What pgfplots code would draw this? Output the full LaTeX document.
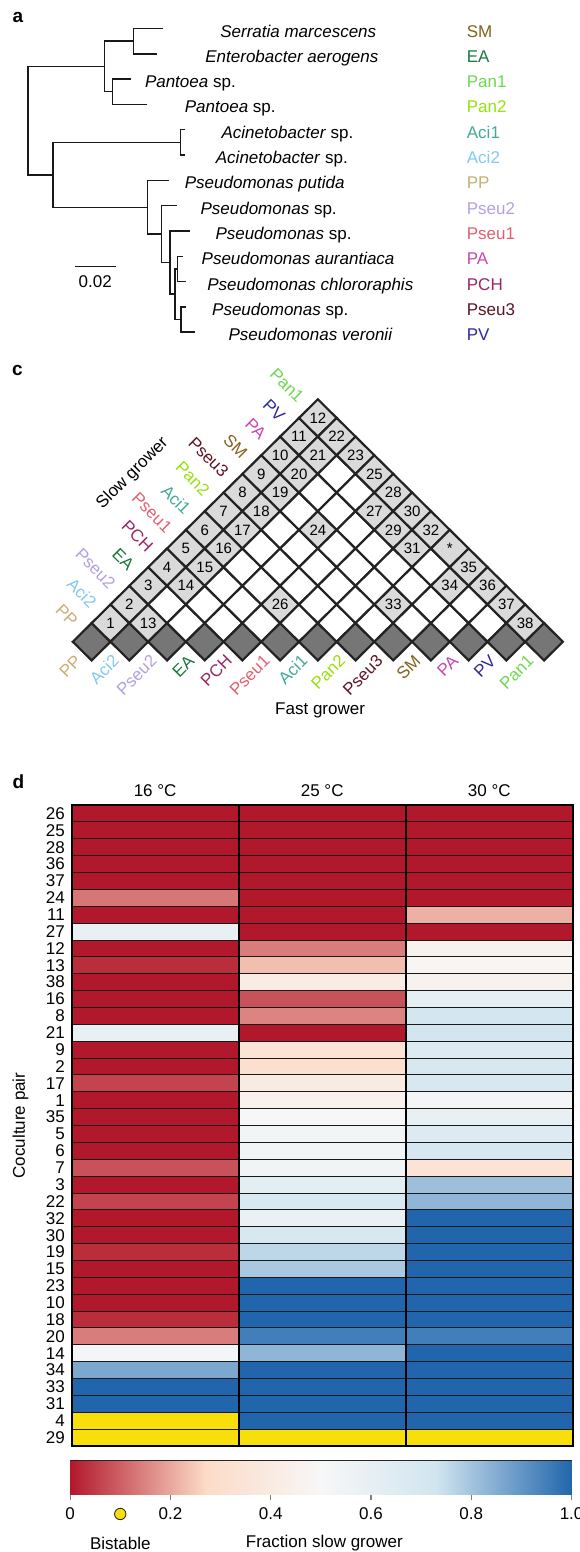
\documentclass[border=0pt]{standalone}
\usepackage{fontspec}
\setmainfont{Liberation Sans}
\usepackage{pgfplots}
\usepackage{pgfplotstable}
\pgfplotsset{compat=1.18}

% strain colours
\definecolor{cSM}{RGB}{128,100,30}
\definecolor{cEA}{RGB}{25,120,60}
\definecolor{cPanA}{RGB}{110,215,80}
\definecolor{cPanB}{RGB}{150,225,10}
\definecolor{cAciA}{RGB}{65,170,150}
\definecolor{cAciB}{RGB}{130,200,240}
\definecolor{cPP}{RGB}{200,175,115}
\definecolor{cPseuB}{RGB}{180,160,225}
\definecolor{cPseuA}{RGB}{225,95,115}
\definecolor{cPA}{RGB}{200,70,180}
\definecolor{cPCH}{RGB}{150,40,100}
\definecolor{cPseuC}{RGB}{95,20,35}
\definecolor{cPV}{RGB}{45,40,155}
\definecolor{cellgray}{RGB}{218,218,218}
\definecolor{basegray}{RGB}{118,118,118}
\definecolor{gridline}{RGB}{35,35,35}
\definecolor{bistable}{RGB}{248,223,11}

% one cell of the pairwise triangle (a square standing on its corner)
\pgfdeclareplotmark{paircell}{%
  \pgfpathmoveto{\pgfqpoint{-18.85pt}{0pt}}%
  \pgfpathlineto{\pgfqpoint{0pt}{18.65pt}}%
  \pgfpathlineto{\pgfqpoint{18.85pt}{0pt}}%
  \pgfpathlineto{\pgfqpoint{0pt}{-18.65pt}}%
  \pgfpathclose
  \pgfusepathqfillstroke}

\pgfplotsset{colormap={fraction}{rgb255(0cm)=(178,24,43) rgb255(27cm)=(253,219,199)
  rgb255(50cm)=(247,247,247) rgb255(73cm)=(209,229,240) rgb255(100cm)=(33,102,172)}}

\tikzset{
  branch/.style={draw=black!90, line width=1.4pt},
  leaf/.style={anchor=base west, inner sep=0pt},
  slowlab/.style={rotate=-45, anchor=east, inner sep=1pt},
  fastlab/.style={rotate=45, anchor=east, inner sep=1pt},
  panel/.style={anchor=base west, inner sep=0pt, font=\fontsize{19}{19}\selectfont\bfseries}
}

% cells of the triangle: i, j = strain indices, c = 0 not tested, 1 tested pair, 2 monoculture
\pgfplotstableread[row sep=\\]{
i j c\\
0 0 2\\ 0 1 1\\ 0 2 1\\ 0 3 1\\ 0 4 1\\ 0 5 1\\ 0 6 1\\ 0 7 1\\ 0 8 1\\ 0 9 1\\ 0 10 1\\ 0 11 1\\ 0 12 1\\
1 1 2\\ 1 2 1\\ 1 3 0\\ 1 4 1\\ 1 5 1\\ 1 6 1\\ 1 7 1\\ 1 8 1\\ 1 9 1\\ 1 10 1\\ 1 11 1\\ 1 12 1\\
2 2 2\\ 2 3 0\\ 2 4 0\\ 2 5 0\\ 2 6 0\\ 2 7 0\\ 2 8 0\\ 2 9 0\\ 2 10 0\\ 2 11 0\\ 2 12 1\\
3 3 2\\ 3 4 0\\ 3 5 0\\ 3 6 0\\ 3 7 0\\ 3 8 0\\ 3 9 1\\ 3 10 0\\ 3 11 0\\ 3 12 1\\
4 4 2\\ 4 5 0\\ 4 6 1\\ 4 7 0\\ 4 8 0\\ 4 9 0\\ 4 10 0\\ 4 11 1\\ 4 12 1\\
5 5 2\\ 5 6 0\\ 5 7 0\\ 5 8 0\\ 5 9 0\\ 5 10 0\\ 5 11 1\\ 5 12 1\\
6 6 2\\ 6 7 0\\ 6 8 0\\ 6 9 0\\ 6 10 0\\ 6 11 1\\ 6 12 1\\
7 7 2\\ 7 8 0\\ 7 9 1\\ 7 10 0\\ 7 11 0\\ 7 12 1\\
8 8 2\\ 8 9 0\\ 8 10 0\\ 8 11 1\\ 8 12 1\\
9 9 2\\ 9 10 0\\ 9 11 0\\ 9 12 1\\
10 10 2\\ 10 11 0\\ 10 12 1\\
11 11 2\\ 11 12 1\\
12 12 2\\
}\pairgrid

% numbering of the tested pairs
\pgfplotstableread[row sep=\\]{
i j lab\\
0 1 1\\ 0 2 2\\ 0 3 3\\ 0 4 4\\ 0 5 5\\ 0 6 6\\ 0 7 7\\ 0 8 8\\ 0 9 9\\ 0 10 10\\ 0 11 11\\ 0 12 12\\
1 2 13\\ 1 4 14\\ 1 5 15\\ 1 6 16\\ 1 7 17\\ 1 8 18\\ 1 9 19\\ 1 10 20\\ 1 11 21\\ 1 12 22\\
2 12 23\\ 3 9 24\\ 3 12 25\\ 4 6 26\\ 4 11 27\\ 4 12 28\\ 5 11 29\\ 5 12 30\\ 6 11 31\\ 6 12 32\\
7 9 33\\ 7 12 *\\ 8 11 34\\ 8 12 35\\ 9 12 36\\ 10 12 37\\ 11 12 38\\
}\pairnums

% fraction of slow grower: x = temperature (0: 16, 1: 25, 2: 30 C), y = row; -1 = bistable
\pgfplotstableread[row sep=\\]{
x y v\\
0 0 0\\ 1 0 0\\ 2 0 0\\
0 1 0\\ 1 1 0\\ 2 1 0\\
0 2 0\\ 1 2 0\\ 2 2 0\\
0 3 0\\ 1 3 0\\ 2 3 0\\
0 4 0\\ 1 4 0\\ 2 4 0\\
0 5 0.13\\ 1 5 0\\ 2 5 0\\
0 6 0\\ 1 6 0\\ 2 6 0.21\\
0 7 0.59\\ 1 7 0\\ 2 7 0\\
0 8 0\\ 1 8 0.14\\ 2 8 0.46\\
0 9 0.03\\ 1 9 0.23\\ 2 9 0.48\\
0 10 0\\ 1 10 0.41\\ 2 10 0.46\\
0 11 0\\ 1 11 0.08\\ 2 11 0.60\\
0 12 0\\ 1 12 0.15\\ 2 12 0.71\\
0 13 0.59\\ 1 13 0\\ 2 13 0.72\\
0 14 0\\ 1 14 0.34\\ 2 14 0.66\\
0 15 0\\ 1 15 0.31\\ 2 15 0.69\\
0 16 0.06\\ 1 16 0.40\\ 2 16 0.69\\
0 17 0\\ 1 17 0.45\\ 2 17 0.52\\
0 18 0\\ 1 18 0.50\\ 2 18 0.59\\
0 19 0\\ 1 19 0.53\\ 2 19 0.66\\
0 20 0\\ 1 20 0.53\\ 2 20 0.70\\
0 21 0.08\\ 1 21 0.54\\ 2 21 0.34\\
0 22 0\\ 1 22 0.62\\ 2 22 0.81\\
0 23 0.06\\ 1 23 0.68\\ 2 23 0.83\\
0 24 0\\ 1 24 0.58\\ 2 24 1\\
0 25 0\\ 1 25 0.69\\ 2 25 1\\
0 26 0.03\\ 1 26 0.76\\ 2 26 1\\
0 27 0\\ 1 27 0.79\\ 2 27 1\\
0 28 0\\ 1 28 1\\ 2 28 1\\
0 29 0\\ 1 29 1\\ 2 29 1\\
0 30 0.03\\ 1 30 1\\ 2 30 1\\
0 31 0.14\\ 1 31 0.95\\ 2 31 0.95\\
0 32 0.52\\ 1 32 0.83\\ 2 32 1\\
0 33 0.86\\ 1 33 1\\ 2 33 1\\
0 34 1\\ 1 34 1\\ 2 34 1\\
0 35 1\\ 1 35 1\\ 2 35 1\\
0 36 -1\\ 1 36 1\\ 2 36 1\\
0 37 -1\\ 1 37 -1\\ 2 37 -1\\
}\fraction

\begin{document}
\begin{tikzpicture}[font=\fontsize{17}{20}\selectfont]
\useasboundingbox (0pt,0pt) rectangle (579pt,-1552pt);

\node[panel] at (12.5pt,-22.5pt) {a};
\node[panel] at (12pt,-375.5pt) {c};
\node[panel] at (12.5pt,-788pt) {d};

% ---------------- a: phylogeny ----------------
\begin{axis}[at={(0pt,0pt)}, anchor=north west, scale only axis,
  width=579pt, height=350pt, xmin=0, xmax=579, ymin=0, ymax=350,
  y dir=reverse, hide axis, clip=false]
\addplot[branch] coordinates {(163.4,28.5) (133.6,28.5) (133.6,53.8) (156.7,53.8)};
\addplot[branch] coordinates {(130.6,79.1) (112.7,79.1) (112.7,104.4) (147.4,104.4)};
\addplot[branch] coordinates {(133.6,41.15) (104.5,41.15) (104.5,91.75) (112.7,91.75)};
\addplot[branch] coordinates {(185.4,129.7) (180.2,129.7) (180.2,155) (184.7,155)};
\addplot[branch] coordinates {(182.8,256.2) (177.3,256.2) (177.3,281.5) (185.8,281.5)};
\addplot[branch] coordinates {(185.8,306.8) (181,306.8) (181,332.1) (194.8,332.1)};
\addplot[branch] coordinates {(177.3,268.85) (175,268.85) (175,319.45) (181,319.45)};
\addplot[branch] coordinates {(189.6,230.9) (170,230.9) (170,294.15) (175,294.15)};
\addplot[branch] coordinates {(177,205.6) (161.7,205.6) (161.7,262.5) (170,262.5)};
\addplot[branch] coordinates {(169,180.3) (147.3,180.3) (147.3,234.05) (161.7,234.05)};
\addplot[branch] coordinates {(180.2,142.35) (53,142.35) (53,207.2) (147.3,207.2)};
\addplot[branch] coordinates {(104.5,66.45) (28,66.45) (28,174.8) (53,174.8)};
% scale bar
\addplot[branch] coordinates {(74.6,266.7) (115.7,266.7)};
\node[anchor=base] at (axis cs:95.2,287.8) {0.02};

\node[leaf] at (axis cs:220.1,37) {\textit{Serratia marcescens}};
\node[leaf] at (axis cs:205.2,62.3) {\textit{Enterobacter aerogens}};
\node[leaf] at (axis cs:144.8,87.6) {\textit{Pantoea} sp.};
\node[leaf] at (axis cs:184.7,112.9) {\textit{Pantoea} sp.};
\node[leaf] at (axis cs:221.3,138.2) {\textit{Acinetobacter} sp.};
\node[leaf] at (axis cs:215.7,163.5) {\textit{Acinetobacter} sp.};
\node[leaf] at (axis cs:184.7,188.8) {\textit{Pseudomonas putida}};
\node[leaf] at (axis cs:200.4,214.1) {\textit{Pseudomonas} sp.};
\node[leaf] at (axis cs:215.3,239.4) {\textit{Pseudomonas} sp.};
\node[leaf] at (axis cs:201.5,264.7) {\textit{Pseudomonas aurantiaca}};
\node[leaf] at (axis cs:207.1,290) {\textit{Pseudomonas chlororaphis}};
\node[leaf] at (axis cs:212,315.3) {\textit{Pseudomonas} sp.};
\node[leaf] at (axis cs:228.4,340.6) {\textit{Pseudomonas veronii}};

\node[leaf, text=cSM] at (axis cs:466.7,37) {SM};
\node[leaf, text=cEA] at (axis cs:466.7,62.3) {EA};
\node[leaf, text=cPanA] at (axis cs:466.7,87.6) {Pan1};
\node[leaf, text=cPanB] at (axis cs:466.7,112.9) {Pan2};
\node[leaf, text=cAciA] at (axis cs:466.7,138.2) {Aci1};
\node[leaf, text=cAciB] at (axis cs:466.7,163.5) {Aci2};
\node[leaf, text=cPP] at (axis cs:466.7,188.8) {PP};
\node[leaf, text=cPseuB] at (axis cs:466.7,214.1) {Pseu2};
\node[leaf, text=cPseuA] at (axis cs:466.7,239.4) {Pseu1};
\node[leaf, text=cPA] at (axis cs:466.7,264.7) {PA};
\node[leaf, text=cPCH] at (axis cs:466.7,290) {PCH};
\node[leaf, text=cPseuC] at (axis cs:466.7,315.3) {Pseu3};
\node[leaf, text=cPV] at (axis cs:466.7,340.6) {PV};
\end{axis}

% ---------------- c: pairs tested ----------------
\begin{axis}[at={(72.8pt,-399.3pt)}, anchor=north west, scale only axis,
  width=490.1pt, height=261.1pt, xmin=-1, xmax=25, ymin=-1, ymax=13,
  hide axis, clip=false]
\addplot[scatter, only marks, scatter src=explicit symbolic,
  scatter/classes={
    0={mark=paircell, fill=white, draw=gridline, line width=2.2pt},
    1={mark=paircell, fill=cellgray, draw=gridline, line width=2.2pt},
    2={mark=paircell, fill=basegray, draw=gridline, line width=2.2pt}}]
  table[x expr=\thisrow{i}+\thisrow{j}, y expr=\thisrow{j}-\thisrow{i}, meta=c] \pairgrid;
\addplot[only marks, mark=none, point meta=explicit symbolic, nodes near coords,
  nodes near coords align={anchor=center},
  every node near coord/.append style={font=\fontsize{15}{15}\selectfont, inner sep=0pt}]
  table[x expr=\thisrow{i}+\thisrow{j}, y expr=\thisrow{j}-\thisrow{i}, meta=lab] \pairnums;

\node[slowlab, text=cPP] at (axis cs:-0.85,0.95) {PP};
\node[slowlab, text=cAciB] at (axis cs:0.15,1.95) {Aci2};
\node[slowlab, text=cPseuB] at (axis cs:1.15,2.95) {Pseu2};
\node[slowlab, text=cEA] at (axis cs:2.15,3.95) {EA};
\node[slowlab, text=cPCH] at (axis cs:3.15,4.95) {PCH};
\node[slowlab, text=cPseuA] at (axis cs:4.15,5.95) {Pseu1};
\node[slowlab, text=cAciA] at (axis cs:5.15,6.95) {Aci1};
\node[slowlab, text=cPanB] at (axis cs:6.15,7.95) {Pan2};
\node[slowlab, text=cPseuC] at (axis cs:7.15,8.95) {Pseu3};
\node[slowlab, text=cSM] at (axis cs:8.15,9.95) {SM};
\node[slowlab, text=cPA] at (axis cs:9.15,10.95) {PA};
\node[slowlab, text=cPV] at (axis cs:10.15,11.95) {PV};
\node[slowlab, text=cPanA] at (axis cs:11.15,12.95) {Pan1};

\node[fastlab, text=cPP] at (axis cs:-0.67,-0.82) {PP};
\node[fastlab, text=cAciB] at (axis cs:1.33,-0.82) {Aci2};
\node[fastlab, text=cPseuB] at (axis cs:3.33,-0.82) {Pseu2};
\node[fastlab, text=cEA] at (axis cs:5.33,-0.82) {EA};
\node[fastlab, text=cPCH] at (axis cs:7.33,-0.82) {PCH};
\node[fastlab, text=cPseuA] at (axis cs:9.33,-0.82) {Pseu1};
\node[fastlab, text=cAciA] at (axis cs:11.33,-0.82) {Aci1};
\node[fastlab, text=cPanB] at (axis cs:13.33,-0.82) {Pan2};
\node[fastlab, text=cPseuC] at (axis cs:15.33,-0.82) {Pseu3};
\node[fastlab, text=cSM] at (axis cs:17.33,-0.82) {SM};
\node[fastlab, text=cPA] at (axis cs:19.33,-0.82) {PA};
\node[fastlab, text=cPV] at (axis cs:21.33,-0.82) {PV};
\node[fastlab, text=cPanA] at (axis cs:23.33,-0.82) {Pan1};

\node[rotate=45] at (axis cs:2.17,9.03) {Slow grower};
\node at (axis cs:12.12,-3.66) {Fast grower};
\end{axis}

% ---------------- d: outcome heatmap ----------------
\begin{axis}[at={(71.6pt,-805pt)}, anchor=north west, scale only axis,
  width=501.2pt, height=641pt,
  xmin=-0.5, xmax=2.5, ymin=-0.5, ymax=37.5, y dir=reverse,
  xtick={0,1,2}, xticklabels={16 °C,25 °C,30 °C},
  xtick pos=right, xticklabel pos=right,
  ytick={0,...,37},
  yticklabels={26,25,28,36,37,24,11,27,12,13,38,16,8,21,9,2,17,1,35,5,6,7,3,22,32,30,19,15,23,10,18,20,14,34,33,31,4,29},
  ytick pos=left, major tick length=0pt,
  xticklabel style={anchor=base, yshift=9pt},
  yticklabel style={anchor=east, xshift=-3.2pt},
  ylabel={Coculture pair},
  ylabel style={at={(axis description cs:-0.102,0.5)}, anchor=center},
  axis line style={line width=2pt, black},
  axis on top,
  colormap name=fraction, point meta min=0, point meta max=1]
\addplot[matrix plot*, mesh/cols=3, point meta=explicit, draw=black!90, line width=0.9pt]
  table[meta=v] \fraction;
% bistable outcomes
\addplot[fill=bistable, draw=black!90, line width=0.9pt]
  coordinates {(-0.5,35.5) (0.5,35.5) (0.5,36.5) (-0.5,36.5)} -- cycle;
\addplot[fill=bistable, draw=black!90, line width=0.9pt]
  coordinates {(-0.5,36.5) (2.5,36.5) (2.5,37.5) (-0.5,37.5)} -- cycle;
% temperature separators
\addplot[black, line width=2pt] coordinates {(0.5,-0.5) (0.5,37.5)};
\addplot[black, line width=2pt] coordinates {(1.5,-0.5) (1.5,37.5)};
\end{axis}

% colour key
\begin{axis}[at={(70.1pt,-1460.7pt)}, anchor=north west, scale only axis,
  width=501.5pt, height=33.3pt, xmin=0, xmax=1, ymin=0, ymax=1,
  ytick=\empty, xtick={0,0.2,0.4,0.6,0.8,1}, xticklabels={0,0.2,0.4,0.6,0.8,1.0},
  xtick pos=left, tick align=outside, major tick length=6pt,
  xtick style={draw=gray, line width=1.2pt},
  xticklabel style={yshift=-4pt},
  axis line style={line width=1.2pt, black!85},
  clip=false, colormap name=fraction, point meta min=0, point meta max=1]
\addplot[surf, shader=interp, point meta=x, mesh/rows=2] coordinates {
  (0,0) (0.27,0) (0.5,0) (0.73,0) (1,0)

  (0,1) (0.27,1) (0.5,1) (0.73,1) (1,1)
};
\addplot[only marks, mark=*, mark size=5.7pt,
  mark options={fill=bistable, draw=black!85, line width=0.8pt}] coordinates {(0.1,-0.6)};
\node at (axis cs:0.1,-1.48) {Bistable};
\node at (axis cs:0.507,-1.47) {Fraction slow grower};
\end{axis}
\end{tikzpicture}
\end{document}
